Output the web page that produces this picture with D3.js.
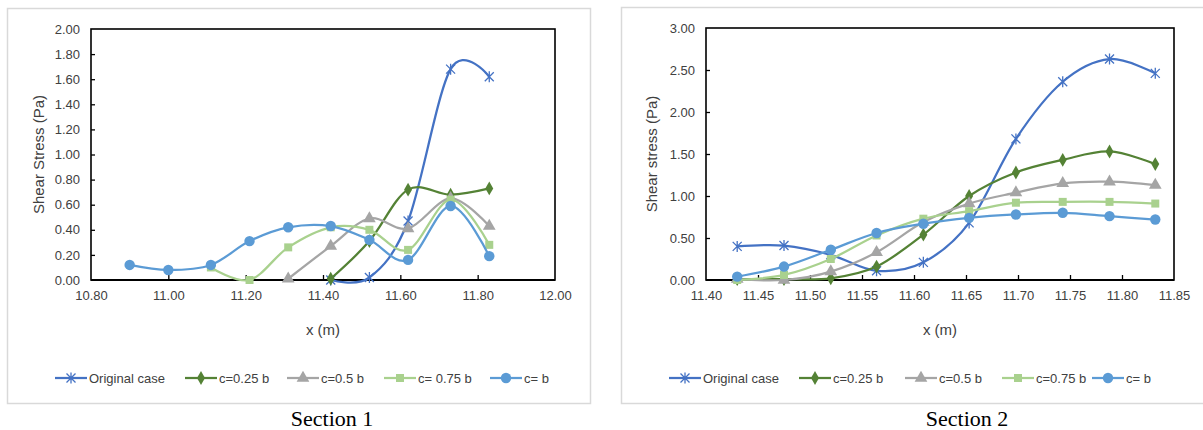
<!DOCTYPE html>
<html>
<head>
<meta charset="utf-8">
<script src="https://cdn.jsdelivr.net/npm/d3@7"></script>
<style>
  html, body { margin: 0; padding: 0; background: #fff; }
  svg { display: block; }
  text { font-family: "Liberation Sans", Arial, sans-serif; fill: #404040; }
</style>
</head>
<body>
<svg id="chart" width="1203" height="430"></svg>
<script>
// ---------- data ----------
const seriesNames = ["Original case", "c=0.25 b", "c=0.5 b", "c= 0.75 b", "c= b"];
const seriesNames2 = ["Original case", "c=0.25 b", "c=0.5 b", "c=0.75 b", "c= b"];
const seriesColors = ["#4472C4", "#548235", "#A5A5A5", "#A9D18E", "#5B9BD5"];
const seriesMarkers = ["star", "diamond", "triangle", "square", "circle"];

// Section 1
const x1 = [10.90, 11.00, 11.11, 11.21, 11.31, 11.42, 11.52, 11.62, 11.73, 11.83];
const s1Original = [null, null, null, null, null, 0.00, 0.02, 0.47, 1.68, 1.62];
const s1C025 = [null, null, null, null, null, 0.01, 0.31, 0.72, 0.68, 0.73];
const s1C05 = [null, null, null, null, 0.01, 0.27, 0.49, 0.41, 0.65, 0.43];
const s1C075 = [null, null, 0.10, 0.00, 0.26, 0.42, 0.40, 0.24, 0.64, 0.28];
const s1Cb = [0.12, 0.08, 0.12, 0.31, 0.42, 0.43, 0.32, 0.16, 0.59, 0.19];
const xTicks1 = [10.80, 11.00, 11.20, 11.40, 11.60, 11.80, 12.00];
const yTicks1 = [0, 0.2, 0.4, 0.6, 0.8, 1.0, 1.2, 1.4, 1.6, 1.8, 2.0];

// Section 2
const x2 = [11.430, 11.475, 11.520, 11.564, 11.609, 11.653, 11.698, 11.743, 11.788, 11.832];
const s2Original = [0.40, 0.41, 0.30, 0.11, 0.21, 0.68, 1.68, 2.36, 2.63, 2.46];
const s2C025 = [0.01, 0.01, 0.02, 0.16, 0.54, 1.00, 1.28, 1.43, 1.53, 1.38];
const s2C05 = [0.01, 0.00, 0.10, 0.33, 0.69, 0.91, 1.04, 1.15, 1.17, 1.13];
const s2C075 = [0.00, 0.06, 0.25, 0.53, 0.73, 0.82, 0.92, 0.93, 0.93, 0.91];
const s2Cb = [0.04, 0.16, 0.36, 0.56, 0.67, 0.74, 0.78, 0.80, 0.76, 0.72];
const xTicks2 = [11.40, 11.45, 11.50, 11.55, 11.60, 11.65, 11.70, 11.75, 11.80, 11.85];
const yTicks2 = [0, 0.5, 1.0, 1.5, 2.0, 2.5, 3.0];

// ---------- drawing ----------
const svg = d3.select("#chart");

function marker(g, type, color, x, y) {
  if (type === "star") {
    const r = 4.5;
    g.append("path")
      .attr("d", `M${x - r},${y - r}L${x + r},${y + r}M${x - r},${y + r}L${x + r},${y - r}M${x},${y - r - 1}L${x},${y + r + 1}`)
      .attr("stroke", color).attr("stroke-width", 1.3).attr("fill", "none");
  } else {
    const sym = {diamond: d3.symbolDiamond, triangle: d3.symbolTriangle, square: d3.symbolSquare, circle: d3.symbolCircle}[type];
    const size = {diamond: 55, triangle: 70, square: 64, circle: 85}[type];
    g.append("path")
      .attr("d", d3.symbol().type(sym).size(size)())
      .attr("transform", `translate(${x},${y})`)
      .attr("fill", color);
  }
}

function drawChart(cfg) {
  const g = svg.append("g");
  // outer frame
  g.append("rect")
    .attr("x", cfg.frame[0] + 0.5).attr("y", cfg.frame[1] + 0.5)
    .attr("width", cfg.frame[2]).attr("height", cfg.frame[3])
    .attr("fill", "#fff").attr("stroke", "#D9D9D9").attr("stroke-width", 1.5);

  const [L, T, R, B] = cfg.plot;
  const x = d3.scaleLinear().domain(cfg.xDomain).range([L, R]);
  const y = d3.scaleLinear().domain(cfg.yDomain).range([B, T]);

  const xAxis = d3.axisBottom(x).tickValues(cfg.xTicks).tickSize(-5).tickPadding(11).tickFormat(d3.format(".2f"));
  const yAxis = d3.axisLeft(y).tickValues(cfg.yTicks).tickSize(-4).tickPadding(11).tickFormat(d3.format(".2f"));

  const gx = g.append("g").attr("transform", `translate(0,${B})`).call(xAxis);
  const gy = g.append("g").attr("transform", `translate(${L},0)`).call(yAxis);
  [gx, gy].forEach(a => {
    a.select(".domain").remove();
    a.selectAll("line").attr("stroke", "#000").attr("stroke-width", 1.3);
    a.selectAll("text").style("font-family", "'Liberation Sans', Arial, sans-serif").style("font-size", "13px").attr("fill", "#404040");
  });
  gy.selectAll(".tick line").filter(d => d === cfg.yDomain[0] || d === cfg.yDomain[1]).remove();
  gx.selectAll(".tick line").filter(d => d === cfg.xDomain[0] || d === cfg.xDomain[1]).remove();

  // plot box
  g.append("rect").attr("x", L).attr("y", T).attr("width", R - L).attr("height", B - T)
    .attr("fill", "none").attr("stroke", "#000").attr("stroke-width", 1.6);
  g.append("line").attr("x1", L).attr("x2", R).attr("y1", B).attr("y2", B)
    .attr("stroke", "#000").attr("stroke-width", 2);

  // axis titles
  g.append("text").attr("x", (L + R) / 2).attr("y", B + 55).attr("text-anchor", "middle")
    .style("font-size", "15px").text("x (m)");
  g.append("text").attr("transform", `translate(${cfg.yTitleX},${(T + B) / 2}) rotate(-90)`)
    .attr("text-anchor", "middle").style("font-size", "15px").text(cfg.yTitle);

  // series
  const line = d3.line().x(d => x(d[0])).y(d => y(d[1])).curve(d3.curveCatmullRom.alpha(0));
  cfg.series.forEach((vals, i) => {
    const pts = cfg.xs.map((xv, j) => [xv, vals[j]]).filter(p => p[1] !== null);
    g.append("path").datum(pts).attr("d", line)
      .attr("fill", "none").attr("stroke", seriesColors[i]).attr("stroke-width", 2.25);
    const mg = g.append("g");
    pts.forEach(p => marker(mg, seriesMarkers[i], seriesColors[i], x(p[0]), y(p[1])));
  });

  // legend
  const ly = 378;
  cfg.legendX.forEach((lx, i) => {
    g.append("line").attr("x1", lx).attr("x2", lx + 32).attr("y1", ly).attr("y2", ly)
      .attr("stroke", seriesColors[i]).attr("stroke-width", 2.25);
    marker(g, seriesMarkers[i], seriesColors[i], lx + 16, ly);
    g.append("text").attr("x", lx + 34).attr("y", ly).attr("dy", "0.35em")
      .style("font-size", "13px").text(cfg.names[i]);
  });

  // caption
  svg.append("text").attr("x", cfg.captionX).attr("y", 426).attr("text-anchor", "middle")
    .style("font-family", "'Liberation Serif', 'Times New Roman', serif").style("font-size", "22px")
    .style("fill", "#000").text(cfg.caption);
}

drawChart({
  frame: [7, 8, 583, 395],
  plot: [91, 29, 555, 280],
  xDomain: [10.8, 12.0], yDomain: [0, 2],
  xTicks: xTicks1, yTicks: yTicks1,
  xs: x1,
  series: [s1Original, s1C025, s1C05, s1C075, s1Cb],
  names: seriesNames,
  yTitle: "Shear Stress (Pa)", yTitleX: 44,
  legendX: [55, 185, 287, 384, 490],
  caption: "Section 1", captionX: 332
});

drawChart({
  frame: [621, 7, 600, 396],
  plot: [706, 28, 1174, 280],
  xDomain: [11.40, 11.85], yDomain: [0, 3],
  xTicks: xTicks2, yTicks: yTicks2,
  xs: x2,
  series: [s2Original, s2C025, s2C05, s2C075, s2Cb],
  names: seriesNames2,
  yTitle: "Shear stress (Pa)", yTitleX: 657,
  legendX: [669, 799, 905, 1002, 1092],
  caption: "Section 2", captionX: 967
});
</script>
</body>
</html>
